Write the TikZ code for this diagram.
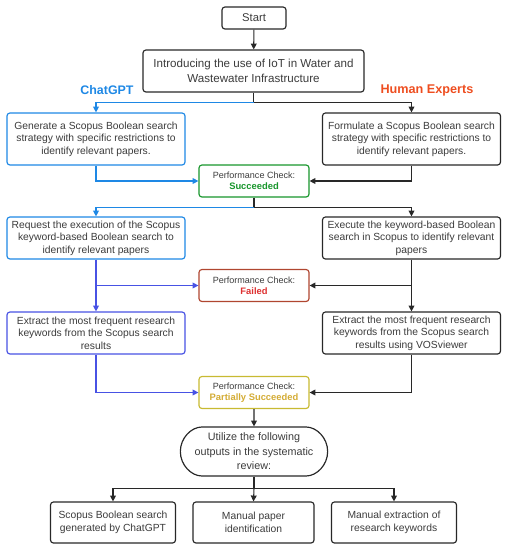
\documentclass[tikz,border=0pt]{standalone}
\usepackage{fontspec}
\setmainfont{Liberation Sans}
\usepackage{xcolor}
\usepackage{tikz}
\usetikzlibrary{arrows.meta, shapes.misc}
\definecolor{gptblue}{RGB}{30,136,229}
\definecolor{gptpurple}{RGB}{72,82,228}
\definecolor{humanred}{RGB}{238,78,32}
\definecolor{okgreen}{RGB}{24,150,44}
\definecolor{failred}{RGB}{222,48,48}
\definecolor{failedge}{RGB}{176,70,48}
\definecolor{partgold}{RGB}{212,172,52}
\definecolor{partedge}{RGB}{200,186,50}
\definecolor{txtgray}{RGB}{60,60,60}
\definecolor{edgegray}{RGB}{40,40,40}
\tikzset{
    myarrow/.style={-{Triangle[length=5pt,width=5pt]}, line width=0.9pt},
    box/.style={draw=edgegray, rectangle, rounded corners=2.5pt, line width=1pt, font=\fontsize{8.8}{10.6}\selectfont, text=txtgray, fill=white, align=center, inner sep=2pt},
    stepbox/.style={box, minimum width=5.34cm},
    checkbox/.style={box, minimum width=3.3cm, minimum height=0.96cm, font=\fontsize{7.7}{9.6}\selectfont},
    outbox/.style={box, minimum width=3.75cm, minimum height=1.23cm}
}

\begin{document}
\begin{tikzpicture}[x=0.03cm, y=-0.03cm]
    \useasboundingbox (0,0) rectangle (508,550);

    \node (start) [box, font=\fontsize{9.6}{12}\selectfont, minimum width=1.92cm, minimum height=0.66cm] at (254,18) {Start};
    \node (intro) [box, font=\fontsize{9.9}{12.4}\selectfont, minimum width=6.63cm, minimum height=1.26cm] at (253.5,71) {Introducing the use of IoT in Water and\\Wastewater Infrastructure};
    \node (gpt) [font=\fontsize{10.6}{12}\selectfont\bfseries, text=gptblue] at (107,90) {ChatGPT};
    \node (hum) [font=\fontsize{10.8}{12}\selectfont\bfseries, text=humanred] at (427,90) {Human Experts};

    % first step
    \node (gen) [stepbox, draw=gptblue, minimum height=1.56cm] at (96,139) {Generate a Scopus Boolean search\\strategy with specific restrictions to\\identify relevant papers.};
    \node (form) [stepbox, minimum height=1.56cm] at (411.5,139) {Formulate a Scopus Boolean search\\strategy with specific restrictions to\\identify relevant papers.};
    \node (chk1) [checkbox, draw=okgreen] at (254,181) {Performance Check:\\\textcolor{okgreen}{\bfseries\fontsize{8}{9.6}\selectfont Succeeded}};

    % second step
    \node (req) [stepbox, draw=gptblue, minimum height=1.26cm] at (96,238) {Request the execution of the Scopus\\keyword-based Boolean search to\\identify relevant papers};
    \node (exec) [stepbox, minimum height=1.26cm] at (411.5,238) {Execute the keyword-based Boolean\\search in Scopus to identify relevant\\papers};
    \node (chk2) [checkbox, draw=failedge] at (254,285.5) {Performance Check:\\\textcolor{failred}{\bfseries\fontsize{8}{9.6}\selectfont Failed}};

    % third step
    \node (extg) [stepbox, draw=gptpurple, minimum height=1.26cm] at (96,333) {Extract the most frequent research\\keywords from the Scopus search\\results};
    \node (exth) [stepbox, minimum height=1.26cm] at (411.5,333) {Extract the most frequent research\\keywords from the Scopus search\\results using VOSviewer};
    \node (chk3) [checkbox, draw=partedge] at (254,392.5) {Performance Check:\\\textcolor{partgold}{\bfseries\fontsize{8}{9.6}\selectfont Partially Succeeded}};

    % outputs
    \node (use) [box, rounded rectangle, font=\fontsize{9.2}{12.3}\selectfont, minimum width=4.56cm, minimum height=1.47cm] at (254,451.5) {Utilize the following\\outputs in the systematic\\review:};
    \node (o1) [outbox] at (113,522.5) {Scopus Boolean search\\generated by ChatGPT};
    \node (o2) [outbox, minimum width=3.63cm] at (253.5,522.5) {Manual paper\\identification};
    \node (o3) [outbox] at (394,522.5) {Manual extraction of\\research keywords};

    \draw [myarrow, edgegray] (start) -- (intro);
    \draw [myarrow, edgegray] (intro.south) -- ++(0,10) coordinate (j1) -| (form.north);
    \draw [myarrow, gptblue] (j1) -| (gen.north);

    \draw [myarrow, gptblue] (gen.south) |- (chk1.west);
    \draw [myarrow, edgegray] (form.south) |- (chk1.east);
    \draw [myarrow, edgegray] (chk1.south) -- ++(0,10) coordinate (j2) -| (exec.north);
    \draw [myarrow, gptblue] (j2) -| (req.north);

    \draw [myarrow, gptpurple] (req.south) |- (chk2.west);
    \draw [myarrow, gptpurple] (req.south) -- (extg.north);
    \draw [myarrow, edgegray] (exec.south) |- (chk2.east);
    \draw [myarrow, edgegray] (exec.south) -- (exth.north);

    \draw [myarrow, gptpurple] (extg.south) |- (chk3.west);
    \draw [myarrow, edgegray] (exth.south) |- (chk3.east);
    \draw [myarrow, edgegray] (chk3) -- (use);

    \draw [myarrow, edgegray] (use.south) -- ++(0,12) coordinate (j3) -| (o1.north);
    \draw [myarrow, edgegray] (j3) -| (o3.north);
    \draw [myarrow, edgegray] (j3) -- (o2.north);
\end{tikzpicture}
\end{document}
